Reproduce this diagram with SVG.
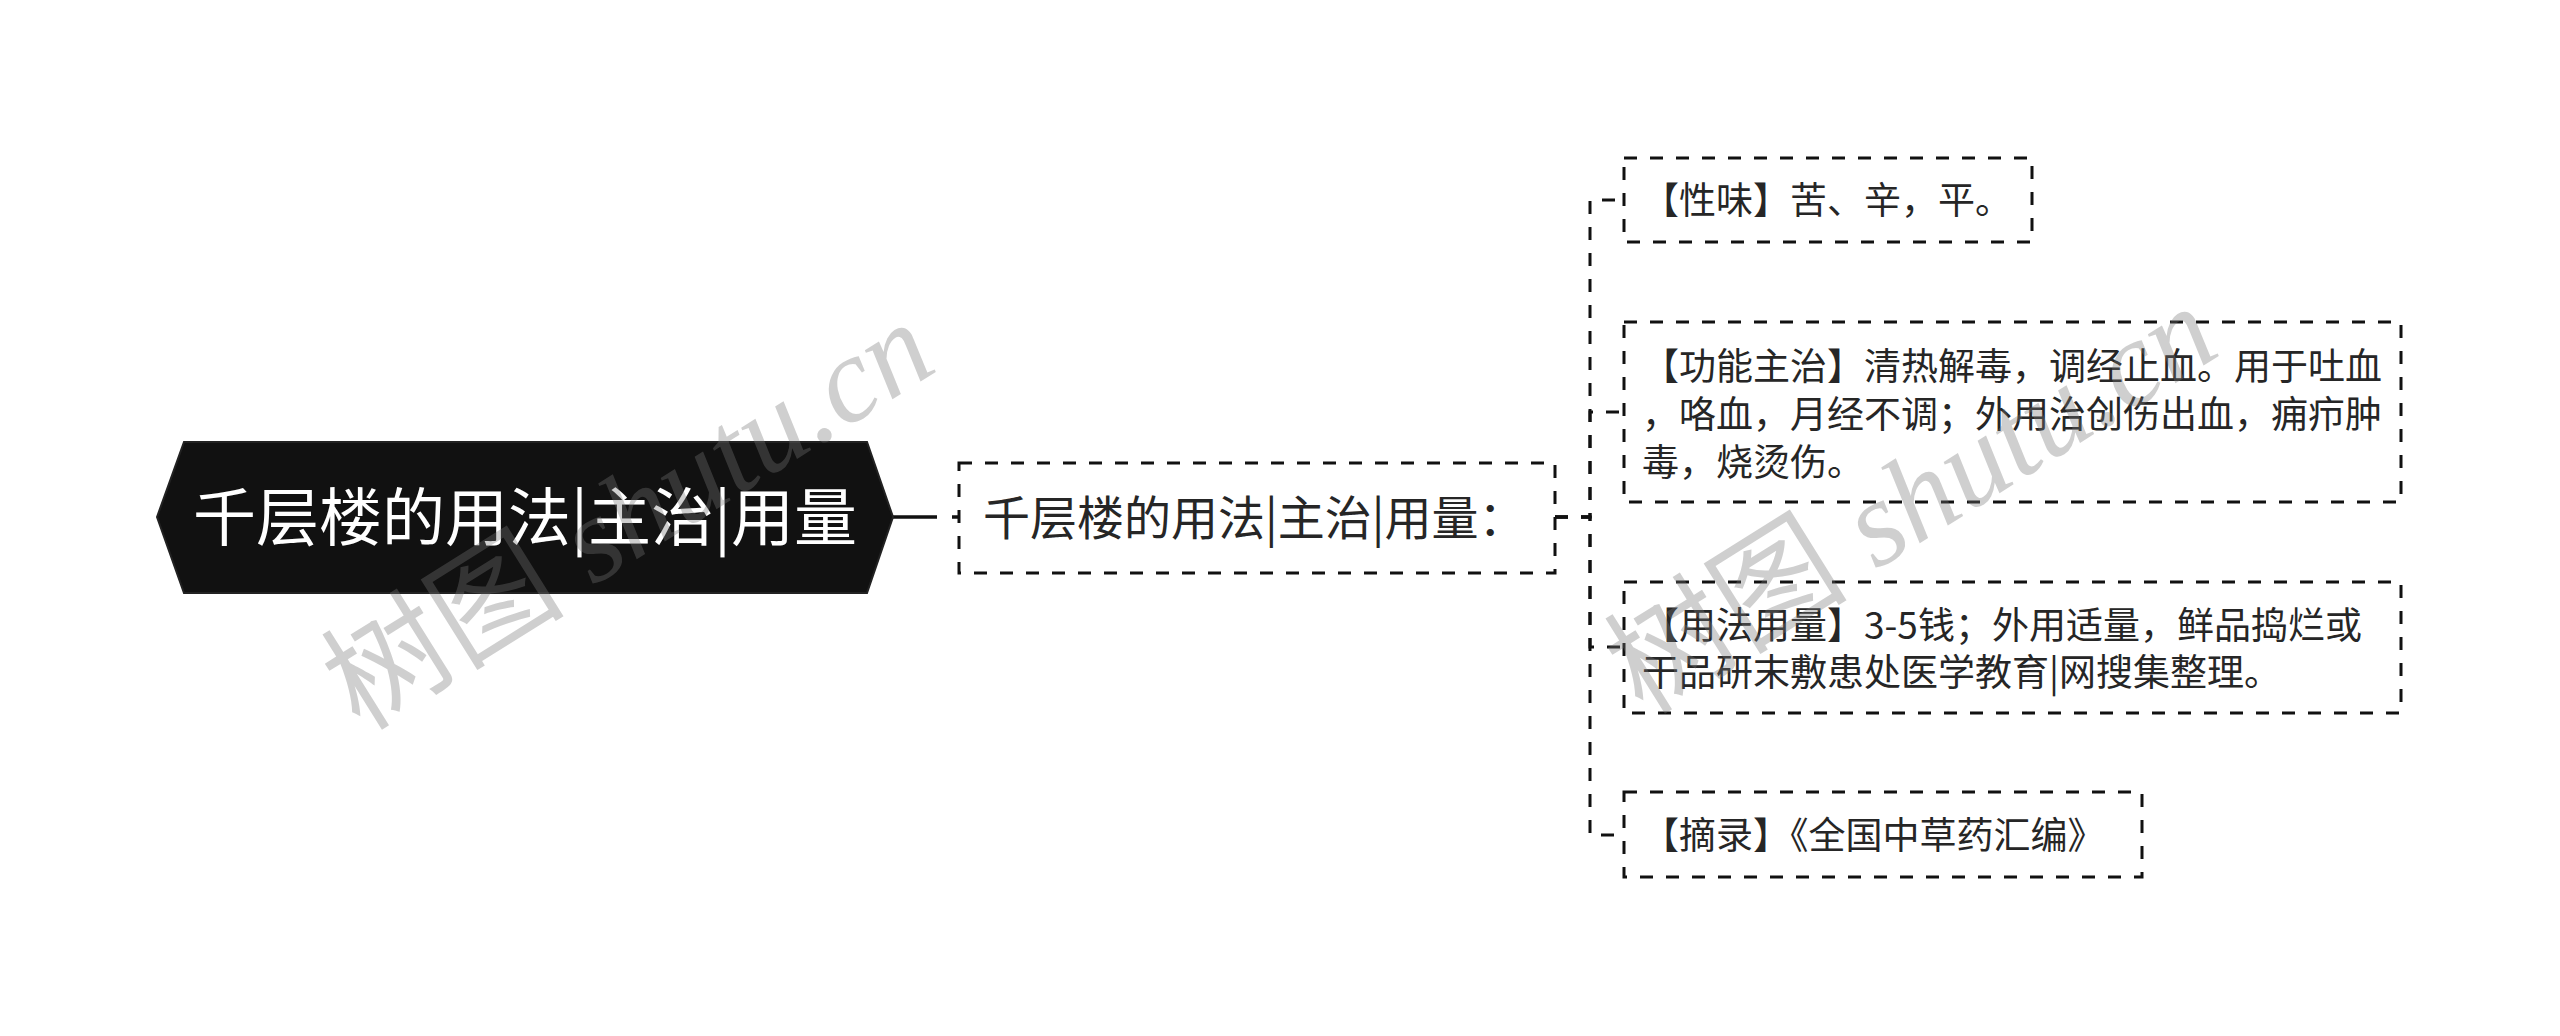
<svg xmlns="http://www.w3.org/2000/svg" width="2560" height="1036" viewBox="0 0 2560 1036">
<style>
.box{fill:#fff;stroke:#111;stroke-width:3;stroke-dasharray:13 13}
.conn{fill:none;stroke:#111;stroke-width:3;stroke-dasharray:13 13}
.t{font-family:"Noto Sans CJK SC","Noto Sans",sans-serif;fill:#262626}
.c{font-size:37px}
.wm{font-family:"Liberation Serif","Noto Sans CJK SC",serif;font-size:122px;font-style:italic;fill:#777;opacity:0.35}
</style>
<rect width="2560" height="1036" fill="#fff"/>
<g id="connectors">
<line x1="893" y1="517" x2="959" y2="517" stroke="#111" stroke-width="3.5" stroke-dasharray="44 15 8 60"/>
<path class="conn" d="M1555,517 H1590 V200 H1624"/>
<path class="conn" d="M1555,517 H1590 V412 H1624"/>
<path class="conn" d="M1555,517 H1590 V647 H1624"/>
<path class="conn" d="M1555,517 H1590 V835 H1624"/>
</g>
<g id="root">
<polygon points="157,517 184,442 867,442 893,517 867,593 184,593" fill="#111" stroke="#222" stroke-width="2"/>
<text class="t" x="525" y="540" font-size="63" text-anchor="middle" style="fill:#fff">千层楼的用法|主治|用量</text>
</g>
<g id="middle">
<rect class="box" x="959" y="463" width="596" height="110"/>
<text class="t" x="983" y="535" font-size="47">千层楼的用法|主治|用量：</text>
</g>
<g id="n1">
<rect class="box" x="1624" y="158" width="408" height="84"/>
<text class="t c" x="1642" y="214">【性味】苦、辛，平。</text>
</g>
<g id="n2">
<rect class="box" x="1624" y="322" width="777" height="180"/>
<text class="t c" x="1642" y="380">【功能主治】清热解毒，调经止血。用于吐血</text>
<text class="t c" x="1642" y="428">，咯血，月经不调；外用治创伤出血，痈疖肿</text>
<text class="t c" x="1642" y="476">毒，烧烫伤。</text>
</g>
<g id="n3">
<rect class="box" x="1624" y="582" width="777" height="131"/>
<text class="t c" x="1642" y="639">【用法用量】3-5钱；外用适量，鲜品捣烂或</text>
<text class="t c" x="1642" y="686">干品研末敷患处医学教育|网搜集整理。</text>
</g>
<g id="n4">
<rect class="box" x="1624" y="792" width="518" height="85"/>
<text class="t c" x="1642" y="849">【摘录】《全国中草药汇编》</text>
</g>
<g id="watermarks">
<text class="wm" transform="translate(360,732) rotate(-32)"><tspan style="font-style:normal">树图</tspan> shutu.cn</text>
<text class="wm" transform="translate(1643,716) rotate(-32)"><tspan style="font-style:normal">树图</tspan> shutu.cn</text>
</g>
</svg>
